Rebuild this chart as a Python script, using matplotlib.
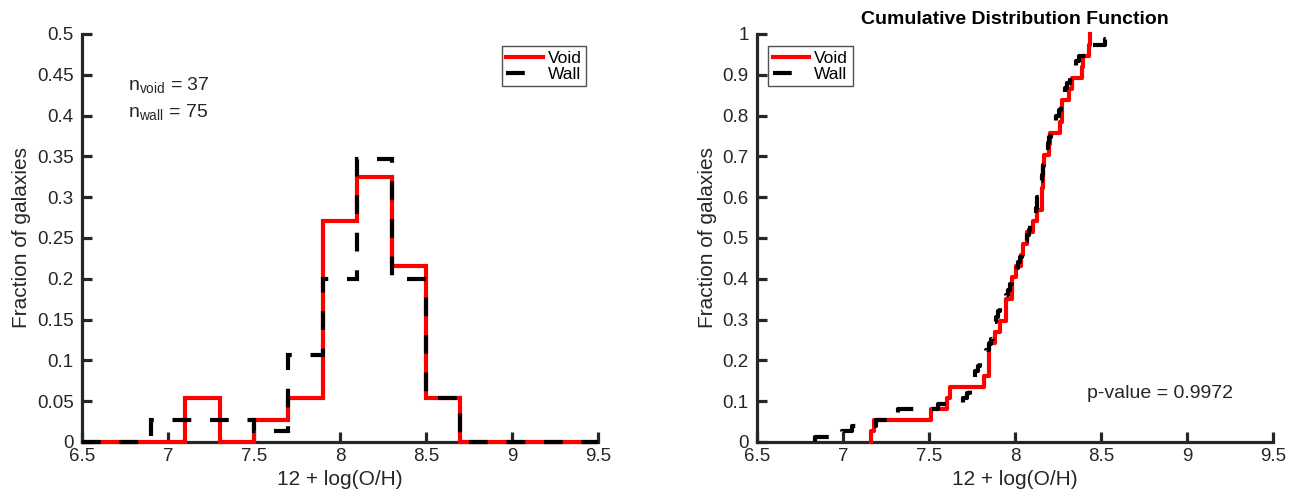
import numpy as np
import matplotlib
matplotlib.use('Agg')
from matplotlib import pyplot as plt

plt.rcParams['font.family'] = ['Liberation Sans', 'DejaVu Sans']

# metallicity values 12 + log(O/H)
void_z = [7.165, 7.18, 7.51, 7.605, 7.62,
          7.82, 7.85, 7.85, 7.85, 7.885, 7.915, 7.945, 7.945, 7.98, 7.98,
          8.005, 8.035, 8.045, 8.07, 8.105, 8.13, 8.155, 8.155, 8.16, 8.16, 8.17, 8.195,
          8.205, 8.26, 8.275, 8.275, 8.315, 8.33, 8.39, 8.395,
          8.43, 8.435]

wall_z = [6.84, 6.995,
          7.05, 7.19,
          7.27, 7.32,
          7.55,
          7.70, 7.72, 7.74, 7.75, 7.76, 7.77, 7.785, 7.795,
          7.81, 7.83, 7.85, 7.86, 7.87, 7.875, 7.88, 7.89, 7.90, 7.91, 7.93, 7.95, 7.96, 7.97, 7.985,
          8.005, 8.01, 8.02, 8.03, 8.04, 8.05, 8.06, 8.07, 8.08, 8.09, 8.10, 8.11, 8.12, 8.125, 8.13,
          8.14, 8.145, 8.15, 8.155, 8.16, 8.165, 8.17, 8.175, 8.18, 8.19, 8.195,
          8.21, 8.22, 8.23, 8.24, 8.255, 8.265, 8.275, 8.285, 8.29, 8.30, 8.32, 8.33, 8.345, 8.355, 8.37,
          8.43, 8.44, 8.525, 8.53]

bin_centers = [6.5, 6.7, 6.9, 7.1, 7.3, 7.5, 7.7, 7.9, 8.1, 8.3, 8.5, 8.7, 8.9, 9.1, 9.3, 9.5]
p_value = 0.9972

xticks = [6.5, 7, 7.5, 8, 8.5, 9, 9.5]
xticklabels = ['6.5', '7', '7.5', '8', '8.5', '9', '9.5']
yticks_l = [0, 0.05, 0.1, 0.15, 0.2, 0.25, 0.3, 0.35, 0.4, 0.45, 0.5]
yticklabels_l = ['0', '0.05', '0.1', '0.15', '0.2', '0.25', '0.3', '0.35', '0.4', '0.45', '0.5']
yticks_r = [0, 0.1, 0.2, 0.3, 0.4, 0.5, 0.6, 0.7, 0.8, 0.9, 1]
yticklabels_r = ['0', '0.1', '0.2', '0.3', '0.4', '0.5', '0.6', '0.7', '0.8', '0.9', '1']

axcol = '#262626'
lw = 3.0
dash = (4.5, 4.5)


def frac_hist(vals):
    c = np.array(bin_centers)
    edges = np.concatenate([c - 0.1, [c[-1] + 0.1]])
    counts, _ = np.histogram(vals, bins=edges)
    return counts / len(vals)


def ecdf(vals):
    v = np.sort(vals)
    x = np.concatenate([[v[0]], v])
    y = np.concatenate([[0], np.arange(1, len(v) + 1) / len(v)])
    return x, y


def style(ax, yticks, ylabels):
    ax.set_xlim(6.5, 9.5)
    ax.set_ylim(yticks[0], yticks[-1])
    ax.set_xticks(xticks)
    ax.set_xticklabels(xticklabels)
    ax.set_yticks(yticks)
    ax.set_yticklabels(ylabels)
    for s in ['top', 'right']:
        ax.spines[s].set_visible(False)
    for s in ['left', 'bottom']:
        ax.spines[s].set_linewidth(2.3)
        ax.spines[s].set_color(axcol)
    ax.tick_params(direction='in', length=7, width=2.3, color=axcol,
                   labelcolor=axcol, labelsize=13.5)
    ax.tick_params(axis='y', pad=6)
    ax.tick_params(axis='x', pad=4)
    ax.set_xlabel('12 + log(O/H)', fontsize=15, color=axcol, labelpad=4)
    ax.set_ylabel('Fraction of galaxies', fontsize=15, color=axcol, labelpad=4)


fig = plt.figure(figsize=(12.94, 4.91), dpi=100)
ax1 = fig.add_axes([0.0634, 0.0998, 0.3988, 0.831])
ax2 = fig.add_axes([0.585, 0.0998, 0.3988, 0.831])

# histogram
fv = frac_hist(void_z)
fw = frac_hist(wall_z)
ax1.stairs(fv[:-1], bin_centers, baseline=None, color='#ff0000', lw=lw,
           label='Void', clip_on=False, zorder=3)
ax1.stairs(fw[:-1], bin_centers, baseline=None, color='black', lw=lw,
           label='Wall', clip_on=False, zorder=4, linestyle=(0, dash))
style(ax1, yticks_l, yticklabels_l)
ax1.text(6.77, 0.437, r'n$_{\mathregular{void}}$ = %d' % len(void_z),
         fontsize=14, va='center', color=axcol)
ax1.text(6.77, 0.403, r'n$_{\mathregular{wall}}$ = %d' % len(wall_z),
         fontsize=14, va='center', color=axcol)
leg1 = ax1.legend(loc='upper right', bbox_to_anchor=(0.977, 0.97), fontsize=12.5,
                  frameon=True, fancybox=False, handlelength=2.1, handletextpad=0.3,
                  borderpad=0.25, labelspacing=0.05, borderaxespad=0)
leg1.get_frame().set_edgecolor(axcol)
leg1.get_frame().set_linewidth(1.0)

# CDF
xv, yv = ecdf(void_z)
xw, yw = ecdf(wall_z)
ax2.step(xv, yv, where='post', color='#ff0000', lw=lw, label='Void',
         clip_on=False, zorder=3)
ax2.step(xw, yw, where='post', color='black', lw=lw, label='Wall',
         linestyle=(0, dash), clip_on=False, zorder=4)
style(ax2, yticks_r, yticklabels_r)
ax2.set_title('Cumulative Distribution Function', fontsize=14,
              fontweight='bold', pad=7)
ax2.text(8.42, 0.12, 'p-value = %.4f' % p_value, fontsize=14, va='center',
         color=axcol)
leg2 = ax2.legend(loc='upper left', bbox_to_anchor=(0.022, 0.97), fontsize=12.5,
                  frameon=True, fancybox=False, handlelength=2.1, handletextpad=0.3,
                  borderpad=0.25, labelspacing=0.05, borderaxespad=0)
leg2.get_frame().set_edgecolor(axcol)
leg2.get_frame().set_linewidth(1.0)

fig.savefig('out.png', dpi=100)
